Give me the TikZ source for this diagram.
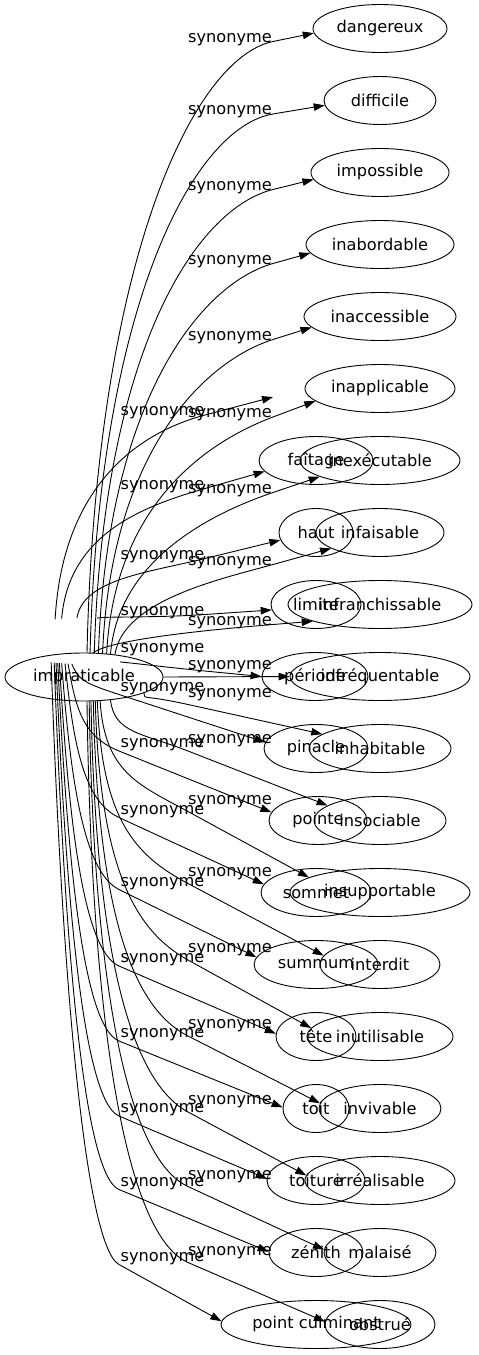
\documentclass[tikz,border=0pt]{standalone}
\usepackage{fontspec}
\newfontfamily\dv{DejaVu Sans}
\usetikzlibrary{shapes.geometric,arrows.meta,calc}
\tikzset{
  nd/.style={ellipse, draw, line width=0.9pt, inner sep=0pt, minimum height=48pt, font=\dv\fontsize{16.2}{19}\selectfont},
  lab/.style={inner sep=0pt, font=\dv\fontsize{16.2}{19}\selectfont},
  conn/.style={line width=0.9pt, -{Triangle[length=11pt,width=7.5pt]}},
}
\newcommand\mkedge[7]{%
  \path (#1); \pgfgetlastxy{\sx}{\sy}%
  \pgfmathsetmacro\cx{\sx+#5*(#2-\sx)}%
  \pgfmathsetmacro\cy{\sy+#6*(-#3-(\sy))}%
  \coordinate (P) at (#2,#3);%
  \draw[conn] (#1) .. controls (\cx pt,\cy pt) and ($(P)!-#7pt!(#4)$) .. (P) -- (#4);%
}
\begin{document}
\begin{tikzpicture}[x=1pt,y=-1pt]
\useasboundingbox (0,0) rectangle (479,1355);
% source
\node[nd, minimum width=158pt] (src) at (84,677) {impraticable};
\node[ellipse, minimum width=166pt, minimum height=46pt, inner sep=0pt] (srcB) at (84,641) {};
\coordinate (m0) at (273,397);
% right column
\node[nd, minimum width=134pt] (a0) at (380,28.5) {dangereux};
\node[nd, minimum width=112pt] (a1) at (380,100.5) {difficile};
\node[nd, minimum width=138pt] (a2) at (380,172.5) {impossible};
\node[nd, minimum width=148pt] (a3) at (380,244.5) {inabordable};
\node[nd, minimum width=152pt] (a4) at (380,316.5) {inaccessible};
\node[nd, minimum width=150pt] (a5) at (380,388.5) {inapplicable};
\node[nd, minimum width=160pt] (a6) at (380,460.5) {inexécutable};
\node[nd, minimum width=128pt] (a7) at (380,532.5) {infaisable};
\node[nd, minimum width=184pt] (a8) at (380,604.5) {infranchissable};
\node[nd, minimum width=180pt] (a9) at (380,676.5) {infréquentable};
\node[nd, minimum width=142pt] (a10) at (380,748.5) {inhabitable};
\node[nd, minimum width=132pt] (a11) at (380,820.5) {insociable};
\node[nd, minimum width=180pt] (a12) at (380,892.5) {insupportable};
\node[nd, minimum width=120pt] (a13) at (380,964.5) {interdit};
\node[nd, minimum width=146pt] (a14) at (380,1036.5) {inutilisable};
\node[nd, minimum width=122pt] (a15) at (380,1108.5) {invivable};
\node[nd, minimum width=150pt] (a16) at (380,1180.5) {irréalisable};
\node[nd, minimum width=112pt] (a17) at (380,1252.5) {malaisé};
\node[nd, minimum width=110pt] (a18) at (380,1324.5) {obstrué};
% middle column
\node[nd, minimum width=114pt] (b6) at (316,460.5) {faîtage};
\node[nd, minimum width=74pt] (b7) at (316,532.5) {haut};
\node[nd, minimum width=90pt] (b8) at (316,604.5) {limite};
\node[nd, minimum width=106pt] (b9) at (315,676.5) {période};
\node[nd, minimum width=104pt] (b10) at (316,748.5) {pinacle};
\node[nd, minimum width=98pt] (b11) at (318,820.5) {pointe};
\node[nd, minimum width=110pt] (b12) at (316,892.5) {sommet};
\node[nd, minimum width=124pt] (b13) at (316,964.5) {summum};
\node[nd, minimum width=80pt] (b14) at (316,1036.5) {tête};
\node[nd, minimum width=66pt] (b15) at (316,1108.5) {toit};
\node[nd, minimum width=98pt] (b16) at (316,1180.5) {toiture};
\node[nd, minimum width=94pt] (b17) at (316,1252.5) {zénith};
\node[nd, minimum width=190pt] (b18) at (316,1324.5) {point culminant};
% labels A
\foreach \i/\y in {0/39.5,1/112,2/187.5,3/261.5,4/337.5,5/415,6/490.5,7/562.5,8/622.5,9/666.5,10/694.5,11/741,12/801.5,13/873.5,14/950,15/1026,16/1102,17/1176.5,18/1252.5}
  \node[lab] (la\i) at (230,\y) {synonyme};
% labels B
\foreach \i/\y in {5/413,6/486.5,7/556.5,8/612.5,9/650,10/688.5,11/745,12/811.5,13/883.5,14/960,15/1035,16/1110,17/1183.5,18/1258.5}
  \node[lab] (lb\i) at (162.5,\y) {synonyme};
% edges A up
\mkedge{src.83}{273}{41.5}{a0.184}{0.05}{0.65}{80}
\mkedge{src.76}{273}{114}{a1.185}{0.05}{0.65}{80}
\mkedge{src.67}{273}{189.5}{a2.186}{0.05}{0.65}{80}
\mkedge{src.59}{273}{263.5}{a3.187}{0.05}{0.65}{75}
\mkedge{src.52}{273}{339.5}{a4.189}{0.05}{0.65}{70}
\mkedge{src.46}{273}{417}{a5.191}{0.05}{0.65}{65}
\mkedge{src.41}{273}{492.5}{a6.195}{0.05}{0.6}{60}
\mkedge{src.36}{273}{564.5}{a7.198}{0.05}{0.6}{55}
\mkedge{src.69}{273}{624.5}{a8.194}{0.1}{0.5}{50}
\draw[conn] (src.east) -- (a9.west);
% edges A down
\mkedge{src.345}{188}{704.5}{a10.166}{0.05}{0.65}{50}
\mkedge{src.319}{188}{751}{a11.164}{0.05}{0.65}{50}
\mkedge{src.304}{188}{811.5}{a12.168}{0.05}{0.65}{55}
\mkedge{src.299}{188}{883.5}{a13.171}{0.05}{0.65}{60}
\mkedge{src.295}{188}{960}{a14.173}{0.05}{0.65}{60}
\mkedge{src.291}{188}{1036}{a15.175}{0.05}{0.65}{60}
\mkedge{src.286}{188}{1112}{a16.176}{0.05}{0.65}{60}
\mkedge{src.282}{188}{1186.5}{a17.177}{0.05}{0.65}{60}
\mkedge{src.277}{188}{1262.5}{a18.177}{0.05}{0.65}{60}
% edges B up
\mkedge{srcB.143}{205}{415}{m0}{0.05}{0.65}{70}
\mkedge{srcB.135}{205}{488.5}{b6.192}{0.05}{0.65}{65}
\mkedge{srcB.107}{205}{558.5}{b7.192}{0.05}{0.65}{60}
\mkedge{srcB.60}{205}{614.5}{b8.187}{0.05}{0.5}{50}
\mkedge{srcB.330}{215}{672}{b9.180}{0.3}{0.3}{40}
% edges B down
\mkedge{srcB.242}{119}{694.5}{b10.173}{0.15}{0.5}{40}
\mkedge{srcB.235}{119}{751}{b11.170}{0.15}{0.5}{40}
\mkedge{srcB.230}{119}{817.5}{b12.171}{0.15}{0.5}{40}
\mkedge{srcB.225}{119}{889.5}{b13.173}{0.15}{0.5}{40}
\mkedge{srcB.222}{119}{966}{b14.176}{0.15}{0.5}{40}
\mkedge{srcB.220}{119}{1041}{b15.178}{0.15}{0.5}{40}
\mkedge{srcB.218}{119}{1116}{b16.178}{0.15}{0.5}{40}
\mkedge{srcB.216}{119}{1189.5}{b17.179}{0.15}{0.5}{40}
\mkedge{srcB.213}{119}{1264.5}{b18.178}{0.15}{0.5}{40}
\end{tikzpicture}
\end{document}
